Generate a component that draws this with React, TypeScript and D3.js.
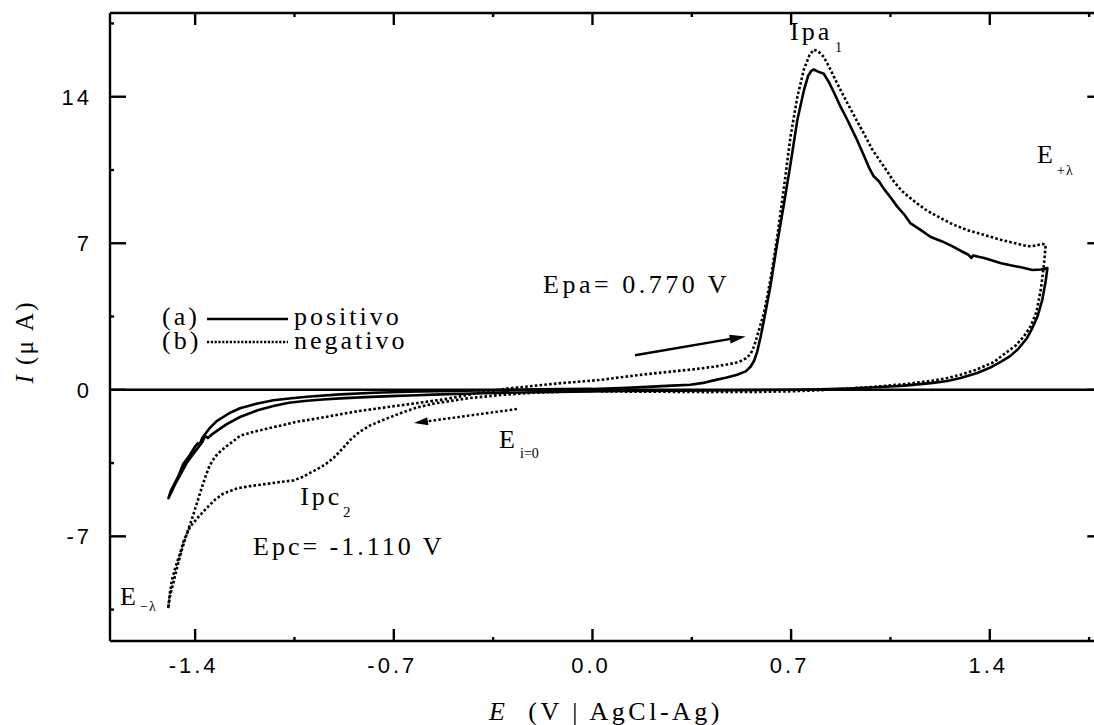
import React from 'react';
import * as d3 from 'd3';

// ---------- axes ----------
const xTicks = [-1.4, -0.7, 0.0, 0.7, 1.4];
const xTickLabels = ['-1.4', '-0.7', '0.0', '0.7', '1.4'];
const xMinor = [-1.05, -0.35, 0.35, 1.05, 1.75];
const yTicks = [-7, 0, 7, 14];
const yTickLabels = ['-7', '0', '7', '14'];
const yMinor = [-10.5, -3.5, 3.5, 10.5, 17.5];

// ---------- (a) positivo : solid ----------
const aAnodicScan: [number, number][] = [
  [0.0, 0.03], [0.1, 0.08], [0.192, 0.14], [0.28, 0.2], [0.345, 0.24], [0.39, 0.33], [0.427, 0.45],
  [0.47, 0.58], [0.51, 0.72], [0.54, 0.88], [0.557, 1.1], [0.57, 1.4], [0.58, 1.8], [0.592, 2.5],
  [0.604, 3.3], [0.627, 4.95], [0.651, 7.0], [0.675, 8.9], [0.698, 10.8], [0.722, 12.9], [0.745, 14.3],
  [0.76, 15.0], [0.772, 15.25], [0.78, 15.3], [0.795, 15.2], [0.815, 15.1], [0.833, 14.7], [0.851, 14.2],
  [0.875, 13.5], [0.898, 12.9], [0.93, 12.0], [0.956, 11.2], [0.975, 10.6], [0.991, 10.2], [1.01, 9.95],
  [1.027, 9.6], [1.05, 9.2], [1.074, 8.75], [1.1, 8.35], [1.121, 7.95], [1.16, 7.6], [1.192, 7.3],
  [1.23, 7.1], [1.262, 6.9], [1.3, 6.62], [1.325, 6.45], [1.335, 6.3], [1.342, 6.42], [1.36, 6.36],
  [1.38, 6.3], [1.403, 6.2], [1.44, 6.05], [1.473, 5.95], [1.51, 5.85], [1.55, 5.72], [1.58, 5.75],
  [1.603, 5.82],
];
const aReverseScan: [number, number][] = [
  [1.6, 5.5], [1.597, 5.2], [1.585, 4.3], [1.568, 3.5], [1.55, 2.95], [1.53, 2.45], [1.5, 1.95],
  [1.473, 1.62], [1.44, 1.35], [1.4, 1.05], [1.356, 0.8], [1.297, 0.56], [1.25, 0.42], [1.2, 0.33],
  [1.1, 0.2], [1.0, 0.12], [0.9, 0.06], [0.8, 0.02], [0.7, 0.0], [0.5, -0.02], [0.3, -0.04],
  [0.1, -0.06], [0.0, -0.08], [-0.2, -0.12], [-0.3, -0.14], [-0.42, -0.18], [-0.536, -0.22],
  [-0.62, -0.26], [-0.713, -0.3], [-0.8, -0.35], [-0.889, -0.41], [-0.95, -0.46], [-1.006, -0.52],
  [-1.07, -0.62], [-1.124, -0.77], [-1.18, -0.98], [-1.242, -1.3], [-1.29, -1.65], [-1.336, -2.08],
  [-1.355, -2.3], [-1.365, -2.2], [-1.375, -2.5], [-1.406, -3.05], [-1.43, -3.5], [-1.45, -4.0],
  [-1.47, -4.5], [-1.494, -5.18],
];
const aFinalScan: [number, number][] = [
  [-1.485, -4.8], [-1.46, -4.15], [-1.442, -3.55], [-1.418, -3.1], [-1.4, -2.7], [-1.39, -2.55],
  [-1.385, -2.65], [-1.375, -2.3], [-1.35, -1.85], [-1.324, -1.5], [-1.28, -1.12], [-1.242, -0.88],
  [-1.18, -0.65], [-1.124, -0.5], [-1.06, -0.4], [-1.006, -0.33], [-0.889, -0.22], [-0.77, -0.14],
  [-0.654, -0.09], [-0.5, -0.05], [-0.35, -0.02], [-0.2, 0.02], [-0.1, 0.04], [0.0, 0.05],
];

// ---------- (b) negativo : dotted ----------
const bCathodicScan: [number, number][] = [
  [0.0, -0.05], [-0.1, -0.09], [-0.208, -0.14], [-0.325, -0.25], [-0.442, -0.41], [-0.56, -0.66],
  [-0.62, -0.85], [-0.677, -1.12], [-0.73, -1.4], [-0.783, -1.7], [-0.82, -2.0], [-0.854, -2.4],
  [-0.88, -2.8], [-0.912, -3.25], [-0.94, -3.55], [-0.971, -3.8], [-1.0, -4.0], [-1.018, -4.15],
  [-1.054, -4.33], [-1.1, -4.4], [-1.15, -4.5], [-1.206, -4.6], [-1.25, -4.7], [-1.3, -4.95],
  [-1.33, -5.25], [-1.359, -5.65], [-1.39, -6.1], [-1.418, -6.55], [-1.44, -7.2], [-1.453, -7.8],
  [-1.47, -8.5], [-1.482, -9.1], [-1.49, -9.8], [-1.495, -10.45],
];
const bReverseScan: [number, number][] = [
  [-1.488, -9.8], [-1.478, -9.3], [-1.471, -8.9], [-1.46, -8.3], [-1.447, -7.65], [-1.43, -6.9],
  [-1.412, -6.2], [-1.398, -5.6], [-1.383, -4.95], [-1.365, -4.2], [-1.35, -3.65], [-1.33, -3.2],
  [-1.312, -2.95], [-1.29, -2.7], [-1.265, -2.45], [-1.242, -2.2], [-1.206, -2.05], [-1.16, -1.9],
  [-1.124, -1.78], [-1.089, -1.68], [-1.04, -1.52], [-0.983, -1.4], [-0.94, -1.3], [-0.889, -1.17],
  [-0.83, -1.03], [-0.772, -0.92], [-0.71, -0.8], [-0.654, -0.7], [-0.6, -0.6], [-0.536, -0.48],
  [-0.48, -0.35], [-0.43, -0.22], [-0.37, -0.08], [-0.3, 0.06], [-0.2, 0.2], [-0.1, 0.33],
  [0.028, 0.47], [0.1, 0.6], [0.192, 0.75], [0.263, 0.85], [0.35, 0.97], [0.427, 1.1], [0.47, 1.2],
  [0.498, 1.27], [0.521, 1.36], [0.54, 1.5], [0.557, 1.7], [0.57, 2.1], [0.58, 2.55], [0.592, 3.1],
  [0.604, 3.65], [0.627, 5.25], [0.651, 7.3], [0.675, 9.7], [0.698, 12.1], [0.722, 14.0],
  [0.745, 15.3], [0.765, 16.0], [0.78, 16.25], [0.797, 16.15], [0.815, 15.9], [0.833, 15.45],
  [0.851, 14.95], [0.875, 14.3], [0.898, 13.7], [0.93, 12.9], [0.956, 12.25], [0.985, 11.5],
  [1.015, 10.9], [1.04, 10.4], [1.062, 9.95], [1.09, 9.5], [1.121, 9.15], [1.144, 8.9], [1.18, 8.55],
  [1.227, 8.2], [1.27, 7.9], [1.321, 7.63], [1.38, 7.4], [1.438, 7.17], [1.49, 7.0], [1.52, 6.9],
  [1.544, 6.85], [1.565, 6.9], [1.585, 6.97], [1.597, 6.92],
];
const bFinalScan: [number, number][] = [
  [1.591, 6.0], [1.58, 4.8], [1.565, 3.75], [1.545, 3.05], [1.52, 2.55], [1.49, 2.1], [1.45, 1.7],
  [1.414, 1.32], [1.35, 0.95], [1.297, 0.72], [1.25, 0.56], [1.2, 0.44], [1.1, 0.27], [1.0, 0.15],
  [0.9, 0.06], [0.8, -0.02], [0.7, -0.07], [0.59, -0.1], [0.4, -0.11], [0.2, -0.09], [0.03, -0.08],
];

const positivo = [...aAnodicScan, ...aReverseScan, ...aFinalScan];
const negativo = [...bCathodicScan, ...bReverseScan, ...bFinalScan];

// annotation arrows (data units)
const scanArrowPos: [number, number][] = [[0.15, 1.65], [0.54, 2.55]];
const scanArrowNeg: [number, number][] = [[-0.266, -0.92], [-0.629, -1.59]];

const W = 1094;
const H = 725;
const L = 110, T = 13, B = 641;
const PXV = 283.8;
const R = L + 3.5 * PXV;

const SERIF = '"Liberation Serif", "Times New Roman", serif';
const SANS = '"Liberation Sans", Arial, sans-serif';

function arrowHead(x1: number, y1: number, x2: number, y2: number, len = 16, half = 4.5) {
  const dx = x2 - x1, dy = y2 - y1;
  const d = Math.hypot(dx, dy);
  const ux = dx / d, uy = dy / d;
  const bx = x2 - ux * len, by = y2 - uy * len;
  const px = -uy, py = ux;
  return `${x2},${y2} ${bx + px * half},${by + py * half} ${bx - px * half},${by - py * half}`;
}

export default function App() {
  const x = d3.scaleLinear().domain([-1.7, 1.8]).range([L, R]);
  const y = d3.scaleLinear().domain([-12, 18]).range([B, T]);
  const line = d3.line<[number, number]>().x((d) => x(d[0])).y((d) => y(d[1]));

  const tl = 12; // top/bottom major tick
  const sl = 16; // left/right major tick
  const ml = 4;  // minor

  const txt = (props: any, s: string) => (
    <text fontFamily={SERIF} fontSize={26} letterSpacing={3} fill="#000" {...props}>{s}</text>
  );

  const pa = scanArrowPos.map((d) => [x(d[0]), y(d[1])]);
  const na = scanArrowNeg.map((d) => [x(d[0]), y(d[1])]);

  return (
    <svg width={W} height={H} style={{ position: 'absolute', left: 0, top: 0, display: 'block', background: '#fff' }}>
      <defs>
        <clipPath id="plot">
          <rect x={L} y={T} width={R - L} height={B - T} />
        </clipPath>
      </defs>

      {/* zero line */}
      <line x1={L} x2={R} y1={y(0)} y2={y(0)} stroke="#000" strokeWidth={2.6} />

      {/* curves */}
      <g clipPath="url(#plot)" fill="none" stroke="#000" strokeLinejoin="round">
        <path d={line(positivo) || ''} strokeWidth={2.6} />
        <path d={line(negativo) || ''} strokeWidth={2.6} strokeDasharray="2.6,2.2" />
      </g>

      {/* frame */}
      <g stroke="#000" strokeWidth={2.4} fill="none">
        <line x1={L} x2={L} y1={T} y2={B} />
        <line x1={L} x2={R} y1={B} y2={B} />
        <line x1={L} x2={R} y1={T} y2={T} />
        <line x1={R} x2={R} y1={T} y2={B} />
      </g>

      {/* ticks */}
      <g stroke="#000" strokeWidth={2.4}>
        {xTicks.map((t) => (
          <g key={'xt' + t}>
            <line x1={x(t)} x2={x(t)} y1={B} y2={B - tl} />
            <line x1={x(t)} x2={x(t)} y1={T} y2={T + tl} />
          </g>
        ))}
        {xMinor.map((t) => (
          <g key={'xm' + t}>
            <line x1={x(t)} x2={x(t)} y1={B} y2={B - ml} />
            <line x1={x(t)} x2={x(t)} y1={T} y2={T + ml} />
          </g>
        ))}
        {yTicks.map((t) => (
          <g key={'yt' + t}>
            <line x1={L} x2={L + sl} y1={y(t)} y2={y(t)} />
            <line x1={R} x2={R - sl} y1={y(t)} y2={y(t)} />
          </g>
        ))}
        {yMinor.map((t) => (
          <g key={'ym' + t}>
            <line x1={L} x2={L + ml} y1={y(t)} y2={y(t)} />
            <line x1={R} x2={R - ml} y1={y(t)} y2={y(t)} />
          </g>
        ))}
      </g>

      {/* tick labels */}
      <g fontFamily={SANS} fontSize={22} letterSpacing={3} fill="#000">
        {xTicks.map((t, i) => (
          <text key={'xl' + t} x={x(t) - 1.5} y={673} textAnchor="middle">{xTickLabels[i]}</text>
        ))}
        {yTicks.map((t, i) => (
          <text key={'yl' + t} x={92} y={y(t) + 8} textAnchor="end">{yTickLabels[i]}</text>
        ))}
      </g>

      {/* axis titles */}
      <text x={606} y={720} textAnchor="middle" fontFamily={SERIF} fontSize={26} letterSpacing={3.5} fill="#000">
        <tspan fontStyle="italic">E</tspan>
        <tspan>{'\u00A0\u00A0(V | AgCl-Ag)'}</tspan>
      </text>
      <text transform={`translate(33, 342) rotate(-90)`} textAnchor="middle" fontFamily={SERIF} fontSize={25} letterSpacing={2} fill="#000">
        <tspan fontStyle="italic">I</tspan>
        <tspan>{'\u00A0(\u03BC A)'}</tspan>
      </text>

      {/* legend */}
      {txt({ x: 162, y: 325 }, '(a)')}
      <line x1={207} x2={288} y1={319} y2={319} stroke="#000" strokeWidth={2.6} />
      {txt({ x: 294, y: 325 }, 'positivo')}
      {txt({ x: 162, y: 349 }, '(b)')}
      <line x1={207} x2={288} y1={342} y2={342} stroke="#000" strokeWidth={2.6} strokeDasharray="2.2,1.6" />
      {txt({ x: 294, y: 349 }, 'negativo')}

      {/* annotations */}
      {txt({ x: x(0.696), y: y(16.71) }, 'Ipa')}
      {txt({ x: x(0.855), y: y(16.14), fontSize: 14, letterSpacing: 0 }, '1')}

      {txt({ x: x(1.566), y: y(10.84) }, 'E')}
      {txt({ x: x(1.637), y: y(10.26), fontSize: 14, letterSpacing: 1 }, '+\u03BB')}

      {txt({ x: x(-0.174), y: y(4.62), letterSpacing: 3.5 }, 'Epa= 0.770 V')}

      {txt({ x: x(-1.03), y: y(-5.5) }, 'Ipc')}
      {txt({ x: x(-0.879), y: y(-6.08), fontSize: 15, letterSpacing: 0 }, '2')}

      {txt({ x: x(-1.196), y: y(-7.89) }, 'Epc= -1.110 V')}

      {txt({ x: x(-1.665), y: y(-10.28) }, 'E')}
      {txt({ x: x(-1.594), y: y(-10.57), fontSize: 14, letterSpacing: 1 }, '\u2212\u03BB')}

      {txt({ x: x(-0.329), y: y(-2.78) }, 'E')}
      {txt({ x: x(-0.255), y: y(-3.26), fontSize: 14, letterSpacing: 0 }, 'i=0')}

      {/* scan direction arrows */}
      <line x1={pa[0][0]} y1={pa[0][1]} x2={pa[1][0] - 12} y2={pa[1][1] + 2} stroke="#000" strokeWidth={2.4} />
      <polygon points={arrowHead(pa[0][0], pa[0][1], pa[1][0], pa[1][1])} fill="#000" />
      <line x1={na[0][0]} y1={na[0][1]} x2={na[1][0] + 12} y2={na[1][1] - 1.6} stroke="#000" strokeWidth={2.4} strokeDasharray="2.6,2.2" />
      <polygon points={arrowHead(na[0][0], na[0][1], na[1][0], na[1][1], 14, 4)} fill="#000" />
    </svg>
  );
}
